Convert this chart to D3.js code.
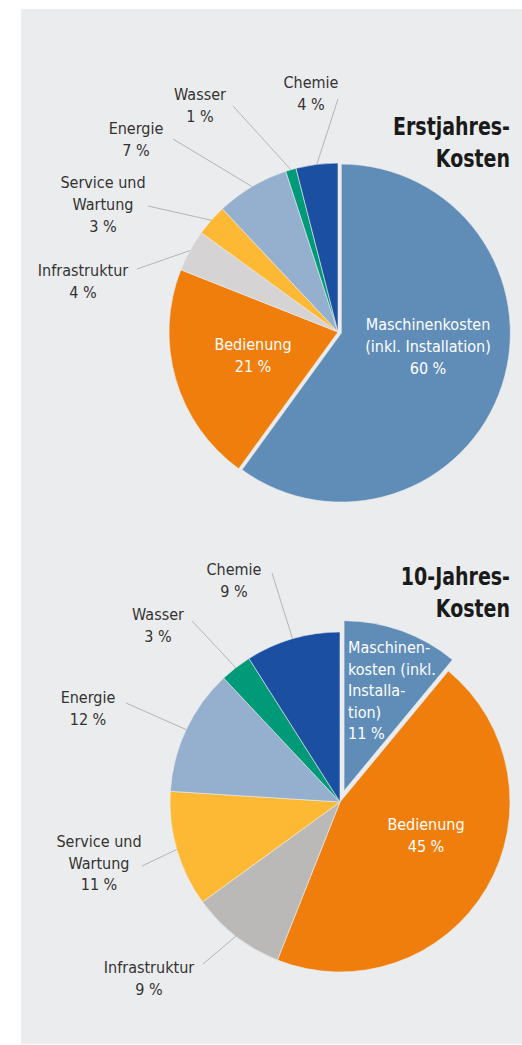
<!DOCTYPE html>
<html>
<head>
<meta charset="utf-8">
<script src="https://cdn.jsdelivr.net/npm/d3@7"></script>
<style>
    body { margin: 0; background: #fff; }
    svg text { font-family: "Liberation Sans Narrow", "DejaVu Sans Condensed", "Roboto", sans-serif; }
</style>
</head>
<body>
<div id="chart"></div>
<script>
// categories in clockwise order, starting at 12 o'clock
const categories = ['Maschinenkosten', 'Bedienung', 'Infrastruktur', 'Service und Wartung', 'Energie', 'Wasser', 'Chemie']
const firstYearValues = [60, 21, 4, 3, 7, 1, 4]
const tenYearValues = [11, 45, 9, 11, 12, 3, 9]

const firstYearColors = ['#5f8db8', '#f07e0d', '#d5d3d4', '#fdb933', '#95b0cf', '#009a78', '#1b4fa2']
const tenYearColors = ['#5f8db8', '#f07e0d', '#bbb9b7', '#fdb933', '#95b0cf', '#009a78', '#1b4fa2']

const firstYearTitle = ['Erstjahres-', 'Kosten']
const tenYearTitle = ['10-Jahres-', 'Kosten']

// label text lines (value gets appended as last line)
const firstYearLabelText = [
    ['Maschinenkosten', '(inkl. Installation)'],
    ['Bedienung'],
    ['Infrastruktur'],
    ['Service und', 'Wartung'],
    ['Energie'],
    ['Wasser'],
    ['Chemie']
]
const tenYearLabelText = [
    ['Maschinen-', 'kosten (inkl.', 'Installa-', 'tion)'],
    ['Bedienung'],
    ['Infrastruktur'],
    ['Service und', 'Wartung'],
    ['Energie'],
    ['Wasser'],
    ['Chemie']
]

const width = 522
const height = 1045

const svg = d3.select('#chart').append('svg')
    .attr('width', width)
    .attr('height', height)

// grey panel
svg.append('rect')
    .attr('x', 21)
    .attr('y', 9)
    .attr('width', width - 21)
    .attr('height', 1035)
    .attr('fill', '#ebeced')

// layout per chart: label anchor, leader line end, inside labels
const charts = [
    {
        values: firstYearValues,
        colors: firstYearColors,
        labels: firstYearLabelText,
        title: firstYearTitle,
        titleY: 135,
        cx: 338, cy: 332, r: 169, explode: 3.5,
        lineHeight: 22,
        layout: [
            { inside: true, x: 428, y: 330, anchor: 'middle' },
            { inside: true, x: 253, y: 350, anchor: 'middle' },
            { x: 83, y: 276, lx: 137, ly: 269 },
            { x: 103, y: 188, lx: 148, ly: 206 },
            { x: 136, y: 134, lx: 173, ly: 139 },
            { x: 200, y: 100, lx: 233, ly: 106 },
            { x: 311, y: 88, lx: 338, ly: 99 }
        ]
    },
    {
        values: tenYearValues,
        colors: tenYearColors,
        labels: tenYearLabelText,
        title: tenYearTitle,
        titleY: 585,
        cx: 340, cy: 802, r: 170, explode: 12,
        lineHeight: 21.5,
        layout: [
            { inside: true, x: 348, y: 653, anchor: 'start' },
            { inside: true, x: 426, y: 830, anchor: 'middle' },
            { x: 149, y: 973, lx: 203, ly: 964 },
            { x: 99, y: 847, lx: 142, ly: 866 },
            { x: 88, y: 703, lx: 126, ly: 703 },
            { x: 158, y: 620, lx: 192, ly: 621 },
            { x: 234, y: 575, lx: 272, ly: 573 }
        ]
    }
]

const pie = d3.pie().sort(null).value(d => d)

charts.forEach(c => {
    const arcs = pie(c.values)
    const arc = d3.arc().innerRadius(0).outerRadius(c.r)
    const edge = d3.arc().innerRadius(c.r).outerRadius(c.r)

    const g = svg.append('g')
        .attr('transform', `translate(${c.cx},${c.cy})`)

    // slices, first one pulled out along its bisector
    g.selectAll('.slice')
        .data(arcs)
        .join('path')
        .attr('class', 'slice')
        .attr('d', arc)
        .attr('fill', (d, i) => c.colors[i])
        .attr('stroke', '#ebeced')
        .attr('stroke-width', 0.6)
        .attr('transform', (d, i) => {
            if (i !== 0) return null
            const a = (d.startAngle + d.endAngle) / 2
            return `translate(${c.explode * Math.sin(a)},${-c.explode * Math.cos(a)})`
        })

    // leader lines from slice edge to the outside labels
    g.selectAll('.leader')
        .data(arcs.filter((d, i) => !c.layout[i].inside))
        .join('line')
        .attr('class', 'leader')
        .attr('x1', d => edge.centroid(d)[0])
        .attr('y1', d => edge.centroid(d)[1])
        .attr('x2', d => c.layout[d.index].lx - c.cx)
        .attr('y2', d => c.layout[d.index].ly - c.cy)
        .attr('stroke', '#b5b5b5')
        .attr('stroke-width', 1)

    // labels
    arcs.forEach((d, i) => {
        const l = c.layout[i]
        const lines = c.labels[i].concat([`${c.values[i]} %`])
        const t = svg.append('text')
            .attr('x', l.x)
            .attr('y', l.y)
            .attr('text-anchor', l.anchor || 'middle')
            .attr('fill', l.inside ? '#ffffff' : '#333333')
            .style('font-size', '16px')
        lines.forEach((s, k) => {
            t.append('tspan')
                .attr('x', l.x)
                .attr('dy', k === 0 ? 0 : c.lineHeight)
                .text(s)
        })
    })

    // title, right aligned and a bit squeezed (condensed look)
    const title = svg.append('text')
        .attr('transform', `translate(510,${c.titleY}) scale(0.88,1)`)
        .attr('text-anchor', 'end')
        .attr('fill', '#1a1a1a')
        .style('font-size', '24px')
        .style('font-weight', 'bold')
    c.title.forEach((s, k) => {
        title.append('tspan')
            .attr('x', 0)
            .attr('dy', k === 0 ? 0 : 32)
            .text(s)
    })
})
</script>
</body>
</html>
